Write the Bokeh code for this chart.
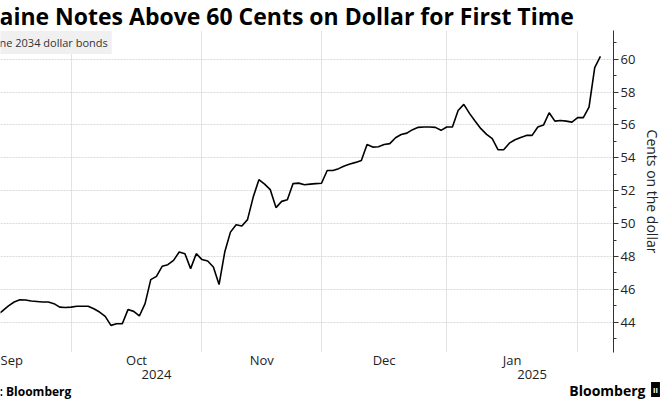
import numpy as np
import pandas as pd
from bokeh.plotting import figure
from bokeh.layouts import column
from bokeh.models import (ColumnDataSource, FixedTicker, LinearAxis, Range1d, Label,
                          CustomJSTickFormatter)
from bokeh.embed import file_html
from bokeh.resources import INLINE

# ---------------- data ----------------
first_day = "2024-09-12"
last_day = "2025-02-07"
prices = [
    44.45, 44.70, 45.00, 45.23, 45.37, 45.35, 45.29, 45.26, 45.23, 45.23, 45.13, 44.92, 44.90,
    44.92, 44.97, 44.97, 44.97, 44.82, 44.62, 44.36, 43.81, 43.91, 43.91, 44.77, 44.66, 44.38,
    45.13, 46.59, 46.79, 47.40, 47.50, 47.76, 48.27, 48.17, 47.26, 48.17,
    47.81, 47.72, 47.36, 46.29, 48.27, 49.48, 49.93, 49.85, 50.24, 51.61, 52.67, 52.40, 52.06,
    50.97, 51.35, 51.45, 52.43, 52.46, 52.36, 52.40, 52.43,
    52.45, 53.23, 53.23, 53.34, 53.50, 53.62, 53.72, 53.84, 54.81, 54.65, 54.67, 54.81, 54.86,
    55.22, 55.42, 55.50, 55.71, 55.85, 55.87, 55.87, 55.85, 55.67,
    55.87, 55.87, 56.88, 57.25, 56.70, 56.22, 55.77, 55.42, 55.16, 54.49, 54.49, 54.89, 55.10,
    55.24, 55.36, 55.36, 55.87, 55.99, 56.74, 56.23, 56.27, 56.23, 56.17,
    56.44, 56.44, 57.08, 59.48, 60.16,
]
month_names = ["Sep", "Oct", "Nov", "Dec", "Jan"]
month_starts = ["2024-09-02", "2024-10-01", "2024-11-01", "2024-12-02", "2025-01-01", "2025-02-03"]
year_names = ["2024", "2025"]
year_anchor = ["2024-10-22", "2025-01-22"]
y_ticks = [44, 46, 48, 50, 52, 54, 56, 58, 60]
y_minor = [43, 45, 47, 49, 51, 53, 55, 57, 59, 61]

title_text = "aine Notes Above 60 Cents on Dollar for First Time"
subtitle_text = "ne 2034 dollar bonds"
source_text = ": Bloomberg"
logo_text = "Bloomberg"
y_label = "Cents on the dollar"

dates = pd.bdate_range(first_day, last_day)
idx = np.arange(len(dates))
src = ColumnDataSource(dict(x=idx, y=prices, date=dates))

def bidx(d):
    return float(np.busday_count(first_day, d))

bounds = [bidx(d) for d in month_starts]
month_pos = [(bounds[i] + bounds[i + 1]) / 2 for i in range(len(month_names))]
year_pos = [bidx(d) for d in year_anchor]

FONT = "Open Sans"
W = 665
HEAD_H, MAIN_H, FOOT_H = 30, 351, 18
FRAME_H = 322

def blank_fig(h):
    f = figure(width=W, height=h, output_backend="svg", toolbar_location=None,
               x_range=Range1d(0, W), y_range=Range1d(0, h),
               x_axis_type=None, y_axis_type=None, frame_align=False,
               min_border_left=0, min_border_right=0, min_border_top=0, min_border_bottom=0)
    f.outline_line_color = None
    f.grid.visible = False
    return f

def add_label(fig, fig_h, text, x, yc, size, bold=False, color="black", align="left", **kw):
    lab = Label(x=x, y=fig_h - yc, x_units="screen", y_units="screen", text=text,
                text_font=FONT, text_font_size=size, text_color=color,
                text_font_style="bold" if bold else "normal",
                text_align=align, text_baseline="middle", **kw)
    fig.add_layout(lab)
    return lab

# ---------- header ----------
head = blank_fig(HEAD_H)
add_label(head, HEAD_H, title_text, -1, 15, "23px", bold=True)

# ---------- main chart ----------
p = figure(width=W, height=MAIN_H, output_backend="svg", toolbar_location=None,
           x_range=Range1d(0.6, 108.3), y_range=Range1d(42.16, 61.74),
           y_axis_location="right", min_border_left=0, min_border_right=40,
           min_border_top=0, min_border_bottom=MAIN_H - FRAME_H)
p.outline_line_color = None

p.line("x", "y", source=src, line_color="black", line_width=1.6)

p.xgrid.ticker = FixedTicker(ticks=bounds)
p.xgrid.grid_line_color = "#e3e3e3"
p.ygrid.ticker = FixedTicker(ticks=y_ticks)
p.ygrid.grid_line_color = "#dadada"
p.ygrid.grid_line_dash = "2 1"

ya = p.yaxis[0]
ya.ticker = FixedTicker(ticks=y_ticks, minor_ticks=y_minor)
ya.axis_line_color = "#333333"
ya.major_tick_line_color = "#333333"
ya.minor_tick_line_color = "#333333"
ya.major_tick_in = 0
ya.major_tick_out = 5
ya.minor_tick_in = 0
ya.minor_tick_out = 3
ya.major_label_standoff = 2
ya.major_label_text_font = FONT
ya.major_label_text_font_size = "13px"
ya.major_label_text_color = "#222222"
ya.axis_label = y_label
ya.axis_label_text_font = FONT
ya.axis_label_text_font_size = "14px"
ya.axis_label_text_font_style = "normal"
ya.axis_label_text_color = "#222222"
ya.axis_label_standoff = 5

def lookup_fmt(pos, lab):
    return CustomJSTickFormatter(args=dict(pos=pos, lab=lab), code="""
const i = pos.findIndex(v => Math.abs(v - tick) < 1e-6); return i >= 0 ? lab[i] : "";
""")

def style_cat_axis(ax, standoff):
    ax.axis_line_color = None
    ax.major_tick_line_color = None
    ax.minor_tick_line_color = None
    ax.major_tick_out = 0
    ax.major_tick_in = 0
    ax.major_label_standoff = standoff
    ax.major_label_text_font = FONT
    ax.major_label_text_font_size = "13px"
    ax.major_label_text_color = "#222222"

xa = p.xaxis[0]
xa.ticker = FixedTicker(ticks=month_pos)
xa.formatter = lookup_fmt(month_pos, month_names)
style_cat_axis(xa, -2)

yr = LinearAxis(ticker=FixedTicker(ticks=year_pos), formatter=lookup_fmt(year_pos, year_names))
style_cat_axis(yr, -2)
p.add_layout(yr, "below")

add_label(p, FRAME_H, subtitle_text, -5, 12, "11px", color="#333333",
          background_fill_color="#f0f0f0", padding=4)

# ---------- footer ----------
foot = blank_fig(FOOT_H)
add_label(foot, FOOT_H, source_text, -1, 10, "12px", bold=True)
add_label(foot, FOOT_H, logo_text, 645, 9, "14px", bold=True, align="right")
add_label(foot, FOOT_H, "ıı", 655, 8, "8px", bold=True, color="white", align="center",
          background_fill_color="black", padding=2)

layout = column(head, p, foot, spacing=0)
open("out.html", "w").write(file_html(layout, INLINE))
